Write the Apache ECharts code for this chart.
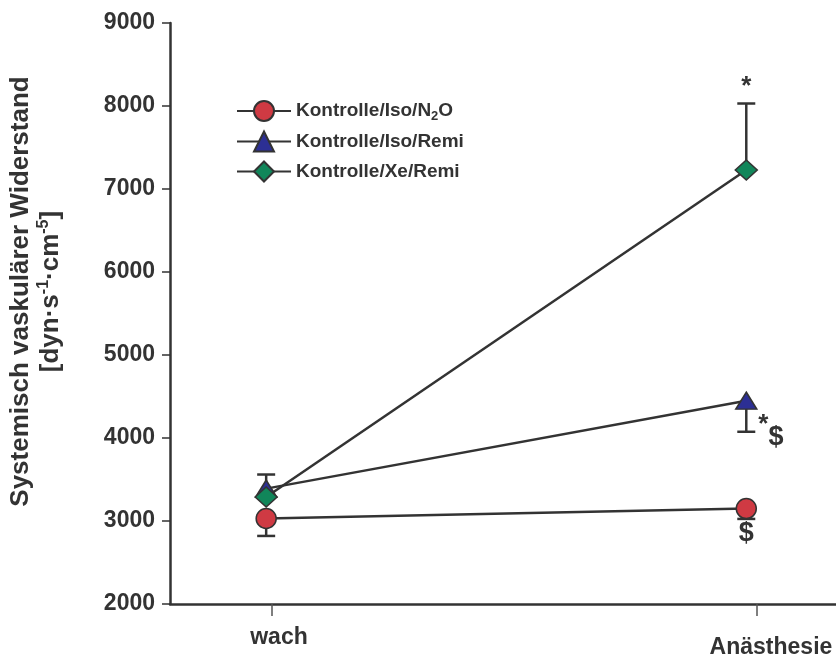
<!DOCTYPE html>
<html>
<head>
<meta charset="utf-8">
<script src="https://cdn.jsdelivr.net/npm/echarts@6/dist/echarts.min.js"></script>
<style>
  html, body { margin: 0; padding: 0; background: #fff; }
  #chart { width: 836px; height: 656px; }
</style>
</head>
<body>
<div id="chart"></div>
<script>
// Systemic vascular resistance, awake vs. under anaesthesia
const categories = ['wach', 'Anästhesie'];
const categoryTicks = [1, 2];
const markerX = [0.988, 1.978];

const seriesNames = ['Kontrolle/Iso/N2O', 'Kontrolle/Iso/Remi', 'Kontrolle/Xe/Remi'];
const n2oMean = [3030, 3150];
const isoRemiMean = [3390, 4450];
const xeRemiMean = [3290, 7230];

// error bar length and direction (+1 up, -1 down)
const n2oErr = [210, 125];
const n2oDir = [-1, -1];
const isoRemiErr = [170, 375];
const isoRemiDir = [1, -1];
const xeRemiErr = [0, 800];
const xeRemiDir = [1, 1];

const significance = [
  { series: 2, point: 1, text: '*' },
  { series: 1, point: 1, text: '*$' },
  { series: 0, point: 1, text: '$' }
];

const yTicks = [2000, 3000, 4000, 5000, 6000, 7000, 8000, 9000];

const colors = ['#cf3a43', '#2c2f94', '#11865a'];
const symbols = ['circle', 'triangle', 'diamond'];
const symbolSizes = [20, [21, 17], [22, 20]];
const means = [n2oMean, isoRemiMean, xeRemiMean];
const errs = [n2oErr, isoRemiErr, xeRemiErr];
const dirs = [n2oDir, isoRemiDir, xeRemiDir];

const ink = '#333';
const fontFamily = '"Liberation Sans", Arial, Helvetica, sans-serif';

const chart = echarts.init(document.getElementById('chart'), null, { renderer: 'canvas' });

function pairs(values) {
  return values.map((v, i) => [markerX[i], v]);
}

const errorSeries = means.map((m, s) => ({
  type: 'custom',
  name: seriesNames[s] + ' SD',
  z: 1,
  silent: true,
  data: m.map((v, i) => [markerX[i], v, v + dirs[s][i] * errs[s][i]]),
  renderItem: function (params, api) {
    const p0 = api.coord([api.value(0), api.value(1)]);
    const p1 = api.coord([api.value(0), api.value(2)]);
    const half = 9;
    const style = { stroke: ink, lineWidth: 2.5, fill: null };
    return {
      type: 'group',
      children: [
        { type: 'line', shape: { x1: p0[0], y1: p0[1], x2: p1[0], y2: p1[1] }, style: style },
        { type: 'line', shape: { x1: p1[0] - half, y1: p1[1], x2: p1[0] + half, y2: p1[1] }, style: style }
      ]
    };
  }
}));

const lineSeries = means.map((m, s) => ({
  type: 'line',
  name: seriesNames[s],
  z: 3,
  data: pairs(m),
  symbol: symbols[s],
  symbolSize: symbolSizes[s],
  showAllSymbol: true,
  lineStyle: { color: ink, width: 2.5 },
  itemStyle: { color: colors[s], borderColor: ink, borderWidth: 1.5 },
  emphasis: { disabled: true },
  animation: false
}));

const noteText = { fontWeight: 'bold', color: ink, fontFamily: fontFamily };

// significance markers at the end of each error bar
const noteSeries = {
  type: 'scatter',
  name: 'notes',
  z: 4,
  symbolSize: 0,
  silent: true,
  itemStyle: { opacity: 1 },
  data: significance.map(n => {
    const s = n.series, i = n.point;
    const end = means[s][i] + dirs[s][i] * errs[s][i];
    let label;
    if (n.text === '*$') {
      label = { show: true, position: 'right', distance: 12, formatter: '{st|*}{dl|$}',
        rich: { st: Object.assign({ fontSize: 26, verticalAlign: 'top', padding: [0, 0, 12, 0] }, noteText),
                dl: Object.assign({ fontSize: 27, padding: [12, 0, 0, 0] }, noteText) } };
    } else if (dirs[s][i] > 0) {
      label = Object.assign({ show: true, position: 'top', distance: 4, formatter: n.text, fontSize: 26 }, noteText);
    } else {
      label = Object.assign({ show: true, position: 'bottom', distance: 1, formatter: n.text, fontSize: 27 }, noteText);
    }
    return { value: [markerX[i], end], label: label };
  })
};

const option = {
  animation: false,
  backgroundColor: '#fff',
  grid: { left: 170, right: 0, top: 23, bottom: 52, containLabel: false, outerBoundsMode: 'none' },
  legend: {
    orient: 'vertical',
    left: 231,
    top: 95,
    itemWidth: 54,
    itemHeight: 25,
    itemGap: 8,
    data: seriesNames,
    textStyle: {
      fontSize: 19, fontWeight: 'bold', color: ink, fontFamily: fontFamily,
      rich: {
        a: { fontSize: 19, fontWeight: 'bold', color: ink, fontFamily: fontFamily },
        sub: { fontSize: 13, fontWeight: 'bold', color: ink, fontFamily: fontFamily, padding: [10, 0, 0, 0] }
      }
    },
    formatter: function (name) {
      if (name === 'Kontrolle/Iso/N2O') return '{a|Kontrolle/Iso/N}{sub|2}{a|O}';
      return '{a|' + name + '}';
    }
  },
  xAxis: {
    type: 'value',
    min: 0.7897,
    max: 2.163,
    splitLine: { show: false },
    axisLine: { show: true, onZero: false, lineStyle: { color: ink, width: 2.5 } },
    axisTick: { show: true, customValues: categoryTicks, length: 12, lineStyle: { color: '#555', width: 1.5 } },
    axisLabel: {
      show: true,
      customValues: categoryTicks,
      margin: 16,
      formatter: function (v) {
        const idx = categoryTicks.indexOf(Math.round(v));
        if (idx === 0) return '{w|' + categories[0] + '}';
        if (idx === 1) return '{an|' + categories[1] + '}';
        return '';
      },
      rich: {
        w: { fontSize: 23, fontWeight: 'bold', color: ink, fontFamily: fontFamily, padding: [6, 0, 0, 14] },
        an: { fontSize: 23, fontWeight: 'bold', color: ink, fontFamily: fontFamily, padding: [16, 0, 0, 28] }
      }
    }
  },
  yAxis: {
    type: 'value',
    min: yTicks[0],
    max: yTicks[yTicks.length - 1],
    interval: 1000,
    splitLine: { show: false },
    axisLine: { show: true, lineStyle: { color: ink, width: 2.5 } },
    axisTick: { show: true, length: 8, lineStyle: { color: ink, width: 1.5 } },
    axisLabel: {
      margin: 15, fontSize: 23, fontWeight: 'bold', color: ink, fontFamily: fontFamily,
      formatter: function (v) { return String(v); }
    },
    name: '{t|Systemisch vaskulärer Widerstand}\n{t|[dyn·s}{sup|-1}{t|·cm}{sup|-5}{t|]}',
    nameLocation: 'middle',
    nameGap: 104,
    nameTextStyle: {
      align: 'center',
      padding: [0, 0, 0, 44],
      rich: {
        t: { fontSize: 26, fontWeight: 'bold', color: ink, fontFamily: fontFamily, lineHeight: 30 },
        sup: { fontSize: 16, fontWeight: 'bold', color: ink, fontFamily: fontFamily, verticalAlign: 'top', padding: [0, 0, 12, 0], lineHeight: 30 }
      }
    }
  },
  series: [...errorSeries, ...lineSeries, noteSeries]
};

chart.setOption(option);
</script>
</body>
</html>
